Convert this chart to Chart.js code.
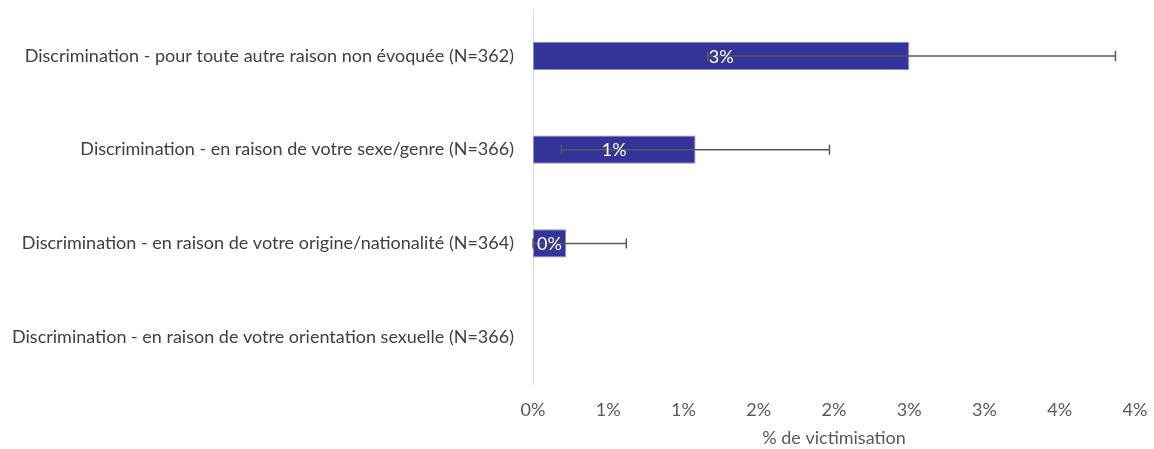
<!DOCTYPE html>
<html lang="fr">
<head>
<meta charset="utf-8">
<script src="https://cdn.jsdelivr.net/npm/chart.js@4/dist/chart.umd.min.js"></script>
<style>
  html, body { margin: 0; padding: 0; background: #fff; }
  #wrap { width: 1154px; height: 449px; }
</style>
</head>
<body>
<div id="wrap"><canvas id="victimChart" width="1154" height="449"></canvas></div>
<script>
// catégories et valeurs (%)
const categories = [
    'Discrimination - pour toute autre raison non évoquée (N=362)',
    'Discrimination - en raison de votre sexe/genre (N=366)',
    'Discrimination - en raison de votre origine/nationalité (N=364)',
    'Discrimination - en raison de votre orientation sexuelle (N=366)'
];
const victimisation = [2.5, 1.08, 0.22, 0];
// intervalles de confiance
const errLow = [1.16, 0.19, 0, null];
const errHigh = [3.87, 1.97, 0.62, null];
const xTicks = [0, 0.5, 1, 1.5, 2, 2.5, 3, 3.5, 4];

const textFont = 'Lato, "Open Sans", sans-serif';

// barres d'erreur dessinées par-dessus les barres
const errorBars = {
    id: 'errorBars',
    afterDatasetsDraw(chart) {
        const ctx = chart.ctx;
        const xs = chart.scales.x;
        const meta = chart.getDatasetMeta(0);
        ctx.save();
        ctx.strokeStyle = '#595959';
        ctx.lineWidth = 1.5;
        meta.data.forEach((bar, i) => {
            if (errLow[i] === null) return;
            const x1 = xs.getPixelForValue(errLow[i]);
            const x2 = xs.getPixelForValue(errHigh[i]);
            const y = bar.y;
            ctx.beginPath();
            ctx.moveTo(x1, y); ctx.lineTo(x2, y);
            ctx.moveTo(x1, y - 5); ctx.lineTo(x1, y + 5);
            ctx.moveTo(x2, y - 5); ctx.lineTo(x2, y + 5);
            ctx.stroke();
        });
        ctx.restore();
    }
};

// étiquettes de valeur au centre des barres
const valueLabels = {
    id: 'valueLabels',
    afterDraw(chart) {
        const ctx = chart.ctx;
        const meta = chart.getDatasetMeta(0);
        ctx.save();
        ctx.fillStyle = '#ffffff';
        ctx.font = '18px ' + textFont;
        ctx.textAlign = 'center';
        ctx.textBaseline = 'middle';
        meta.data.forEach((bar, i) => {
            if (!victimisation[i]) return;
            ctx.fillText(Math.round(victimisation[i]) + '%', (bar.x + bar.base) / 2, bar.y + 1);
        });
        ctx.restore();
    }
};

const ctx = document.getElementById('victimChart').getContext('2d');
const victimChart = new Chart(ctx, {
    type: 'bar',
    data: {
        labels: categories,
        datasets: [{
            data: victimisation,
            backgroundColor: '#333399',
            borderColor: '#8c8cc8',
            borderWidth: 1,
            borderSkipped: false,
            categoryPercentage: 0.3,
            barPercentage: 1
        }]
    },
    options: {
        indexAxis: 'y',
        responsive: false,
        animation: false,
        layout: { padding: { top: 9, right: 19, bottom: 0, left: 0 } },
        plugins: {
            legend: { display: false },
            tooltip: { enabled: false }
        },
        scales: {
            x: {
                min: 0,
                max: 4,
                afterBuildTicks(scale) {
                    scale.ticks = xTicks.map(v => ({ value: v }));
                },
                // hauteur fixe de l'axe, pas de marge automatique à droite
                afterFit(scale) {
                    scale.height = 65;
                    scale.paddingLeft = 0;
                    scale.paddingRight = 0;
                },
                grid: { display: false, drawTicks: false },
                border: { display: false },
                ticks: {
                    padding: 15,
                    color: '#595959',
                    font: { family: textFont, size: 18 },
                    callback: v => Math.round(v) + '%'
                },
                title: {
                    display: true,
                    text: '% de victimisation',
                    color: '#595959',
                    font: { family: textFont, size: 18 },
                    padding: { top: 8, bottom: 0 }
                }
            },
            y: {
                afterFit(scale) {
                    scale.width = 533;
                    scale.paddingTop = 0;
                    scale.paddingBottom = 0;
                },
                grid: { display: false, drawTicks: false },
                border: { display: true, color: '#d9d9d9', width: 1 },
                ticks: {
                    padding: 19,
                    color: '#404040',
                    font: { family: textFont, size: 18 }
                }
            }
        }
    },
    plugins: [errorBars, valueLabels]
});
</script>
</body>
</html>
